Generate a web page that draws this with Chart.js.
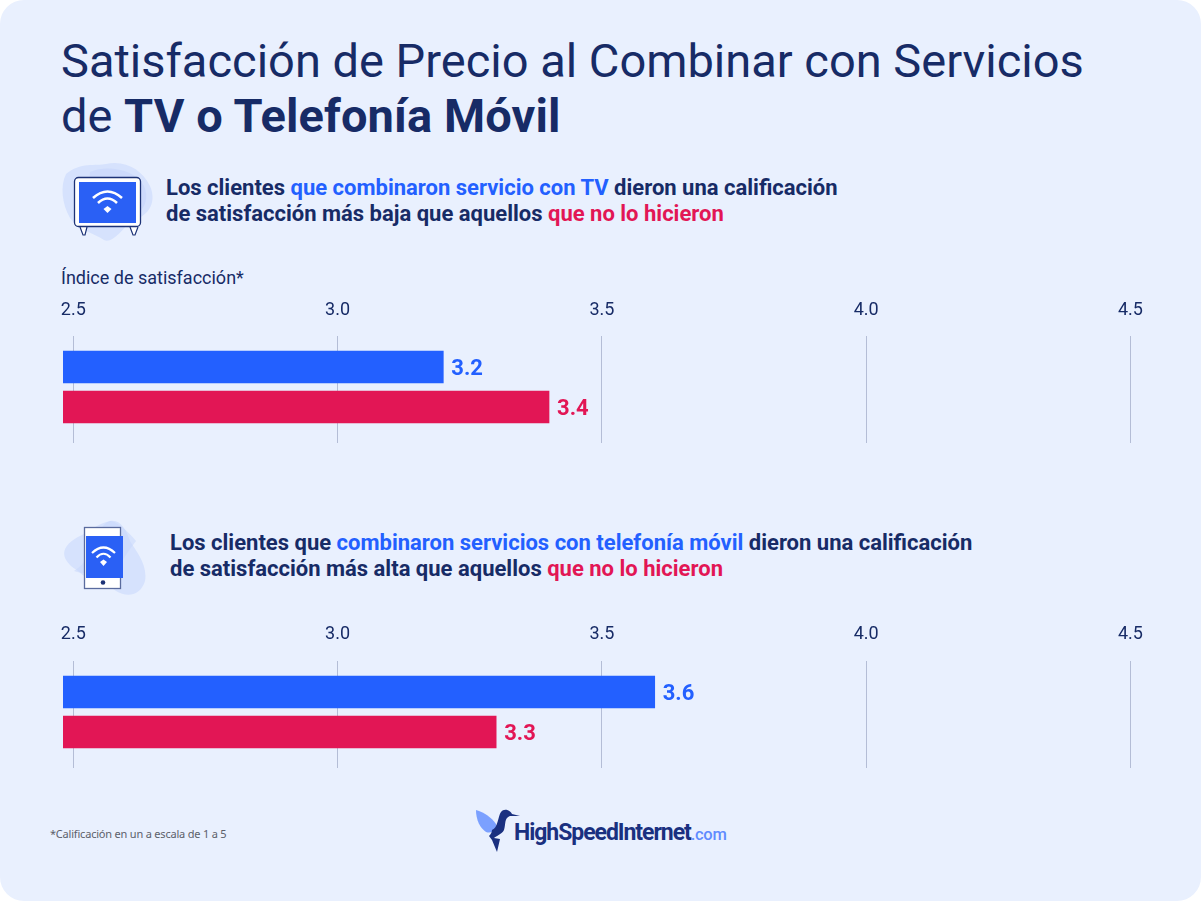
<!DOCTYPE html>
<html lang="es">
<head>
<meta charset="utf-8">
<title>Satisfacción de Precio</title>
<script src="https://cdn.jsdelivr.net/npm/chart.js@4/dist/chart.umd.min.js"></script>
<style>
  html, body { margin: 0; padding: 0; background: #fff; }
  #panel { position: absolute; left: 0; top: 0; width: 1201px; height: 901px; background: #e9f0fe; border-radius: 24px; overflow: hidden; font-family: Roboto, sans-serif; color: #172b66; }
  #panel > * { position: absolute; }
  h1 { margin: 0; left: 61px; top: 33px; font-size: 47px; line-height: 55px; font-weight: 400; white-space: nowrap; }
  h1 b { font-weight: 700; letter-spacing: 0.1px; }
  .lead { font-size: 22px; line-height: 26px; font-weight: 700; white-space: nowrap; margin: 0; }
  .blue { color: #2360ff; }
  .pink { color: #e21655; }
  #axisTitle { left: 61px; top: 267px; font-size: 18px; line-height: 22px; }
  canvas { left: 0; }
  #note { left: 50px; top: 826px; font: 11px "Noto Sans", sans-serif; color: #5c5f6a; letter-spacing: -0.2px; }
  #brand { left: 514px; top: 818px; font-size: 23px; line-height: 30px; font-weight: 700; letter-spacing: -1.05px; color: #1a3080; white-space: nowrap; }
  #brand span { font-weight: 500; font-size: 16.5px; color: #5f8bff; letter-spacing: -0.3px; }
</style>
</head>
<body>
<div id="panel">
  <h1>Satisfacción de Precio al Combinar con Servicios<br>de <b>TV o Telefonía Móvil</b></h1>

  <svg style="left:60px;top:160px" width="100" height="85" viewBox="0 0 100 85">
    <path d="M6 14C20 2 36 6 46 4C66 0 82 10 90 26C98 44 86 58 72 60C62 70 52 84 44 80C32 72 18 70 10 58C2 44 0 26 6 14Z" fill="#d6e2fd"/>
    <path d="M30 12C48 4 76 10 84 26C92 44 78 58 62 62C48 66 30 56 28 36Z" fill="#c6d6fc" opacity="0.6"/>
    <path d="M20 67l3 8h2l2-8M70 67l3 8h2l3-8" fill="#fff" stroke="#1c3276" stroke-width="1.2"/>
    <rect x="14.500" y="17.500" width="66" height="49" rx="4" fill="#fff" stroke="#1c3276" stroke-width="1.3"/>
    <rect x="19" y="22" width="57" height="41" fill="#2a60f5"/>
    <g fill="none" stroke="#fff" stroke-width="2.6">
      <path d="M33 38Q47.500 25 62 38"/>
      <path d="M38 43Q47.500 34 57 43"/>
    </g>
    <path d="M43.500 49L47.500 46L51.500 49L47.500 53Z" fill="#fff"/>
  </svg>
  <p class="lead" style="left:166px;top:175px">Los clientes <span class="blue">que combinaron servicio con TV</span> dieron una calificación<br>de satisfacción más baja que aquellos <span class="pink">que no lo hicieron</span></p>

  <div id="axisTitle">Índice de satisfacción*</div>
  <canvas id="tvChart" width="1201" height="153" style="top:290px"></canvas>

  <svg style="left:60px;top:515px" width="90" height="85" viewBox="0 0 90 85">
    <path d="M50 6C60 4 66 14 70 26C76 36 88 50 85 66C80 82 66 82 56 76C46 68 30 68 18 56C-2 44 0 30 22 20C32 14 40 8 50 6Z" fill="#d6e2fd"/>
    <path d="M50 6C56 6 68 16 76 26C68 36 62 46 56 56C42 58 24 60 14 56C24 50 30 40 36 24C40 14 44 8 50 6Z" fill="#c6d6fc" opacity="0.5"/>
    <rect x="24.500" y="12.500" width="36" height="61" fill="#fff" stroke="#5a6b9e" stroke-width="1.3"/>
    <rect x="26" y="21" width="37" height="42" fill="#2a60f5"/>
    <circle cx="43" cy="67.500" r="2.300" fill="#1c3276"/>
    <g fill="none" stroke="#fff" stroke-width="2.2">
      <path d="M32 38Q43.500 27 55 38"/>
      <path d="M36.500 42.500Q43.500 35 50.500 42.500"/>
    </g>
    <path d="M40 47L43.500 44.500L47 47L43.500 51Z" fill="#fff"/>
  </svg>
  <p class="lead" style="left:170px;top:530px">Los clientes que <span class="blue">combinaron servicios con telefonía móvil</span> dieron una calificación<br>de satisfacción más alta que aquellos <span class="pink">que no lo hicieron</span></p>

  <canvas id="mobileChart" width="1201" height="153" style="top:615px"></canvas>

  <div id="note">*Calificación en un a escala de 1 a 5</div>

  <svg style="left:474px;top:806px" width="50" height="48" viewBox="0 0 50 48">
    <path d="M2 4C10 6 18 12 22 18C23 24 18 28 12 26C6 22 2 14 2 4Z" fill="#7ba0ff"/>
    <path d="M18 24C24 22 24 10 27 6C30 2 36 4 38 8L46 10L36 10C30 12 32 18 30 24C28 28 22 30 20 32L26 33L23 46L18 34L15 30C17 28 18 26 18 24Z" fill="#1a3080"/>
  </svg>
  <div id="brand">HighSpeedInternet<span>.com</span></div>
</div>

<script>
const categories = ['Combinaron', 'No combinaron'];
const tvValues = [3.2, 3.4];
const mobileValues = [3.6, 3.3];
const tickValues = [2.5, 3.0, 3.5, 4.0, 4.5];
const barColors = ['#2360ff', '#e21655'];

// Write the value just past the end of each bar
const valueLabels = {
    id: 'valueLabels',
    afterDatasetsDraw(chart) {
        const ctx = chart.ctx;
        ctx.save();
        ctx.font = '700 22px Roboto';
        ctx.textBaseline = 'middle';
        chart.getDatasetMeta(0).data.forEach((bar, i) => {
            ctx.fillStyle = barColors[i];
            ctx.fillText(chart.data.datasets[0].data[i].x.toFixed(1), bar.x + 8, bar.y + 2);
        });
        ctx.restore();
    }
};

const drawChart = (id, values, tickPadding) => {
    new Chart(document.getElementById(id), {
        type: 'bar',
        data: {
            datasets: [{
                label: 'Índice de satisfacción',
                data: values.map((v, i) => ({ x: v, y: i, name: categories[i] })),
                backgroundColor: barColors,
                barThickness: 32,
            }],
        },
        options: {
            indexAxis: 'y',
            responsive: false,
            animation: false,
            layout: { padding: { left: 63, right: 51, top: 0, bottom: 0 } },
            plugins: { legend: { display: false }, tooltip: { enabled: false } },
            scales: {
                x: {
                    type: 'linear',
                    position: 'top',
                    min: 2.4805,
                    max: 4.537,
                    afterBuildTicks: scale => { scale.ticks = tickValues.map(v => ({ value: v })); },
                    afterFit: scale => { scale.height = 46; },
                    grid: { color: '#b4bdd6', lineWidth: 1, drawTicks: false },
                    border: { display: false },
                    ticks: {
                        padding: tickPadding,
                        color: '#172b66',
                        font: { family: 'Roboto', size: 18 },
                        maxRotation: 0,
                        autoSkip: false,
                        callback: v => v.toFixed(1),
                    },
                },
                y: {
                    type: 'linear',
                    display: false,
                    offset: false,
                    reverse: true,
                    min: -0.775,
                    max: 1.9,
                },
            },
        },
        plugins: [valueLabels],
    });
};

drawChart('tvChart', tvValues, 15);
drawChart('mobileChart', mobileValues, 16);
</script>
</body>
</html>
